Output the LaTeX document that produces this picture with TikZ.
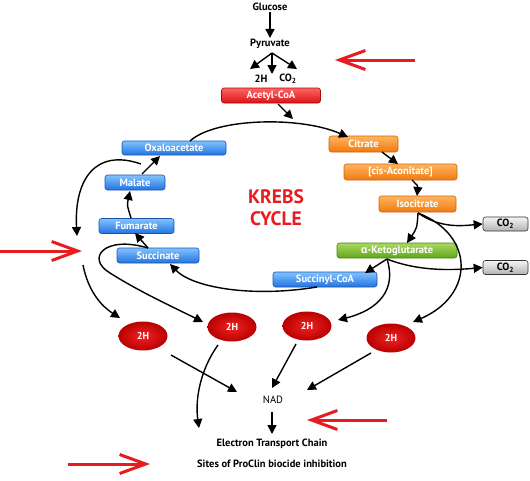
\documentclass[tikz,border=0pt]{standalone}
\usepackage{fontspec}
\setmainfont{PT Sans}
\newfontfamily\grk{Open Sans}
\usetikzlibrary{arrows.meta,shapes.geometric}
\definecolor{kred}{RGB}{232,28,32}
\definecolor{bluetop}{RGB}{130,195,255}
\definecolor{bluebot}{RGB}{35,115,225}
\definecolor{blueedge}{RGB}{25,85,175}
\definecolor{orgtop}{RGB}{255,180,95}
\definecolor{orgbot}{RGB}{240,122,15}
\definecolor{orgedge}{RGB}{205,100,10}
\definecolor{grntop}{RGB}{170,218,95}
\definecolor{grnbot}{RGB}{95,165,25}
\definecolor{grnedge}{RGB}{70,130,20}
\definecolor{redtop}{RGB}{255,100,100}
\definecolor{redbot}{RGB}{220,20,20}
\definecolor{rededge}{RGB}{170,10,10}
\definecolor{elin}{RGB}{240,35,35}
\definecolor{elout}{RGB}{185,0,0}
\begin{document}
\begin{tikzpicture}[x=1pt,y=-1pt,
  txt/.style={inner sep=1pt,font=\bfseries\fontsize{10.5}{12}\selectfont},
  box/.style={rectangle,rounded corners=2.5pt,line width=0.6pt,minimum height=15pt,inner sep=0pt,text=white,font=\bfseries\fontsize{10.5}{12}\selectfont},
  bluebox/.style={box,draw=blueedge,top color=bluetop,bottom color=bluebot},
  orgbox/.style={box,draw=orgedge,top color=orgtop,bottom color=orgbot},
  grnbox/.style={box,draw=grnedge,top color=grntop,bottom color=grnbot},
  redbox/.style={box,draw=rededge,top color=redtop,bottom color=redbot},
  graybox/.style={box,draw=black!80,top color=black!4,bottom color=black!30,text=black,minimum height=14pt},
  hball/.style={ellipse,minimum width=49pt,minimum height=29pt,inner sep=0pt,shading=radial,inner color=elin,outer color=elout,text=white,font=\bfseries\fontsize{10}{12}\selectfont},
  arr/.style={line width=1.4pt,-{Triangle[length=9pt,width=9pt]}},
  redarr/.style={draw=kred,line width=3pt,-{Straight Barb[length=26pt,width=19pt]}}
]
\useasboundingbox (0,0) rectangle (530,480);

% top texts
\node[txt] (glu) at (270,7) {Glucose};
\node[txt] (pyr) at (270,44) {Pyruvate};
\node[txt] (h2t) at (261,79) {2H};
\node[txt] (co2t) at (288,79) {CO\textsubscript{2}};
\node[redbox,minimum width=99pt] (acc) at (271,95.5) {Acetyl-CoA};

% cycle boxes
\node[bluebox,minimum width=104pt,minimum height=14pt] (oxa) at (174,148) {Oxaloacetate};
\node[bluebox,minimum width=60pt] (mal) at (135,182.5) {Malate};
\node[bluebox,minimum width=75pt] (fum) at (136.5,226) {Fumarate};
\node[bluebox,minimum width=82pt] (suc) at (158,255.5) {Succinate};
\node[orgbox,minimum width=69pt,minimum height=16pt] (cit) at (363.5,144) {Citrate};
\node[orgbox,minimum width=113pt,minimum height=16pt] (cis) at (400.5,172) {[cis-Aconitate]};
\node[orgbox,minimum width=77pt,minimum height=16pt] (iso) at (417.5,204) {Isocitrate};
\node[grnbox,minimum width=120pt] (akg) at (397,250.5) {{\grk α}-Ketoglutarate};
\node[bluebox,minimum width=104pt] (sca) at (325,279.5) {Succinyl-CoA};
\node[graybox,minimum width=45pt] (co2a) at (505.5,224) {CO\textsubscript{2}};
\node[graybox,minimum width=45pt] (co2b) at (505.5,267.5) {CO\textsubscript{2}};

\node[font=\bfseries\fontsize{19.5}{22}\selectfont,text=kred,align=center] (krebs) at (276,208) {KREBS\\CYCLE};

% 2H balls
\node[hball] (e1) at (143,336) {2H};
\node[hball] (e2) at (232,327) {2H};
\node[hball] (e3) at (307,326) {2H};
\node[hball] (e4) at (391,338) {2H};

% bottom texts
\node[txt,font=\fontsize{10.5}{12}\selectfont] (nad) at (273,400) {NAD};
\node[txt] (etc) at (272,444) {Electron Transport Chain};
\node[txt] (sites) at (272,464) {Sites of ProClin biocide inhibition};

% coordinates
\coordinate (pb) at (272,53);
\coordinate (b1) at (250,69);
\coordinate (b2) at (272,74);
\coordinate (b3) at (297,69);
\coordinate (accout) at (278,104);
\coordinate (cyc) at (293,119);
\coordinate (arcS) at (190,141);
\coordinate (citin) at (348,137);
\coordinate (citout) at (382,152);
\coordinate (cisin) at (398,164);
\coordinate (cisout) at (412,180);
\coordinate (isoin) at (417,196);
\coordinate (isoout) at (418,213);
\coordinate (akgin) at (407,243);
\coordinate (akgout) at (387,259);
\coordinate (scain) at (365,273);
\coordinate (scaout) at (317,287);
\coordinate (sucin) at (170,264);
\coordinate (sucout) at (148,248);
\coordinate (fumin) at (135,233);
\coordinate (fumout) at (131,218);
\coordinate (malin) at (130,191);
\coordinate (malout) at (142,174);
\coordinate (oxain) at (160,156);
\coordinate (loopS) at (141,164);
\coordinate (loopE) at (77,236);
\coordinate (leftS) at (83,265);
\coordinate (t1) at (120,318);
\coordinate (t2) at (203,322);
\coordinate (t3) at (338,320);
\coordinate (t4) at (413,322);
\coordinate (e1o) at (171,355);
\coordinate (e2o) at (218,345);
\coordinate (e3o) at (296,344);
\coordinate (e4o) at (371,353);
\coordinate (n1) at (237,392);
\coordinate (n3) at (272,388);
\coordinate (n4) at (307,390);
\coordinate (etcin) at (199,428);
\coordinate (nadout) at (272,412);
\coordinate (etcin2) at (272,434);

% top arrows
\draw[arr] (glu) -- (pyr);
\draw[arr] (pb) -- (b1);
\draw[arr] (pb) -- (b2);
\draw[arr] (pb) -- (b3);
\draw[arr] (accout) -- (cyc);

% cycle
\draw[arr] (arcS) .. controls (215,118) and (300,116) .. (citin);
\draw[arr] (citout) -- (cisin);
\draw[arr] (cisout) .. controls (418,186) .. (isoin);
\draw[arr] (isoout) .. controls (417,228) .. (akgin);
\draw[arr] (isoout) .. controls (440,228) and (460,226) .. (co2a.west);
\draw[arr] (isoout) .. controls (475,235) and (475,295) .. (t4);
\draw[arr] (akgout) -- (scain);
\draw[arr] (akgout) .. controls (420,272) and (455,270) .. (co2b.west);
\draw[arr] (akgout) .. controls (397,290) and (378,310) .. (t3);
\draw[arr] (scaout) .. controls (250,298) and (192,287) .. (sucin);
\draw[arr] (sucout) -- (fumin);
\draw[arr] (sucout) .. controls (105,235) and (85,258) .. (110,273) .. controls (140,292) and (175,308) .. (t2);
\draw[arr] (fumout) .. controls (127,205) .. (malin);
\draw[arr] (malout) -- (oxain);
\draw[arr] (loopS) .. controls (95,148) and (74,180) .. (loopE);
\draw[arr] (leftS) .. controls (88,290) and (100,305) .. (t1);

% to NAD / ETC
\draw[arr] (e1o) -- (n1);
\draw[arr] (e2o) .. controls (200,370) and (195,400) .. (etcin);
\draw[arr] (e3o) -- (n3);
\draw[arr] (e4o) -- (n4);
\draw[arr] (nadout) -- (etcin2);

% red inhibition arrows
\coordinate (r1s) at (415,60);
\coordinate (r1e) at (335,60);
\coordinate (r2s) at (0,251);
\coordinate (r2e) at (82,251);
\coordinate (r3s) at (387,420);
\coordinate (r3e) at (307,420);
\coordinate (r4s) at (68,464);
\coordinate (r4e) at (150,464);
\draw[redarr] (r1s) -- (r1e);
\draw[redarr] (r2s) -- (r2e);
\draw[redarr] (r3s) -- (r3e);
\draw[redarr] (r4s) -- (r4e);
\end{tikzpicture}
\end{document}
